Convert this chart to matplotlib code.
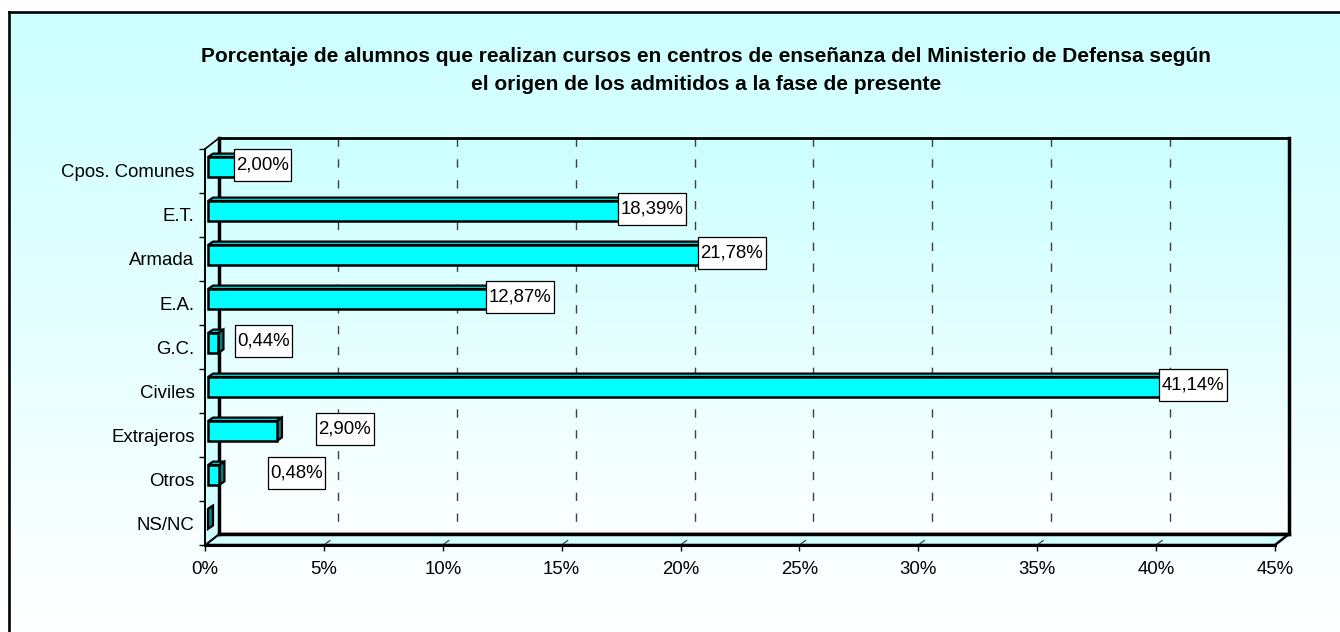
import numpy as np
import matplotlib
matplotlib.use("Agg")
import matplotlib.pyplot as plt
from matplotlib.patches import Polygon, Rectangle
from matplotlib.lines import Line2D
from matplotlib.transforms import IdentityTransform

plt.rcParams['font.family'] = ['Liberation Sans', 'DejaVu Sans']

# data
categories = ["Cpos. Comunes", "E.T.", "Armada", "E.A.", "G.C.",
              "Civiles", "Extrajeros", "Otros", "NS/NC"]
values = [2.00, 18.39, 21.78, 12.87, 0.44, 41.14, 2.90, 0.48, 0.00]
xticks = [0, 5, 10, 15, 20, 25, 30, 35, 40, 45]
title1 = "Porcentaje de alumnos que realizan cursos en centros de enseñanza del Ministerio de Defensa según"
title2 = "el origen de los admitidos a la fase de presente"

# label shift (pixels) from the bar end, as placed in the original
label_dx = [7, 7, 6, 6, 45, 7, 68, 77, 0]

W, H = 1340, 632
CYAN_BG = np.array([204, 255, 255]) / 255.0
FACE = "#00ffff"
TOP = "#00cccc"
SIDE = "#008080"
DEPTH = (14, 11)       # back wall offset, px (right, up)
BAR_F = (3, 4)         # bar front face offset
BAR_B = (8, 7.5)       # bar back face offset
FS = 13.4

fig = plt.figure(figsize=(W / 100, H / 100), dpi=100, facecolor="white")

# chart area background with vertical gradient, border only top and left
bg = fig.add_axes([0, 0, 1, 1], zorder=-10)
bg.axis("off")
t = np.linspace(0, 1, 256)[:, None, None]
grad = CYAN_BG * (1 - t) + np.ones(3) * t
bg.imshow(grad, extent=[9, W + 60, H, 12], aspect="auto", interpolation="bilinear")
bg.set_xlim(0, W)
bg.set_ylim(H, 0)
bg.plot([9, W + 10], [12, 12], color="black", lw=1.9, clip_on=False)
bg.plot([9, 9], [12, H + 10], color="black", lw=1.9, clip_on=False)
bg.set_xlim(0, W)
bg.set_ylim(H, 0)

fig.text(706 / W, 1 - 56 / H, title1, ha="center", va="center",
         fontsize=15, fontweight="bold")
fig.text(706 / W, 1 - 85 / H, title2, ha="center", va="center",
         fontsize=15, fontweight="bold")

# main axes = front plane of the 3d box
L, R, T, B = 205, 1275, 149, 545
ax = fig.add_axes([L / W, (H - B) / H, (R - L) / W, (B - T) / H])
n = len(categories)
ax.set_xlim(0, 45)
ax.set_ylim(n - 0.5, -0.5)
ax.patch.set_visible(False)
for s in ["top", "right"]:
    ax.spines[s].set_visible(False)
ax.spines["bottom"].set_linewidth(2.2)
ax.spines["left"].set_linewidth(1.3)
ax.set_xticks(xticks)
ax.set_xticklabels([f"{x}%" for x in xticks], fontsize=FS)
ax.set_yticks(range(n))
ax.set_yticklabels(categories, fontsize=FS)
ax.set_yticks(np.arange(-0.5, n, 1), minor=True)
ax.tick_params(axis="x", length=4.5, width=1, pad=7, colors="black")
ax.tick_params(axis="y", which="major", length=0, pad=7.5)
ax.tick_params(axis="y", which="minor", length=4.5, width=1)

ID = IdentityTransform()


def disp(x, y, off=(0, 0)):
    X, Y = ax.transData.transform((x, y))
    return (X + off[0], Y + off[1])


def poly(pts, fc, ec="black", lw=1.0, z=1):
    p = Polygon(pts, closed=True, fc=fc, ec=ec, lw=lw, transform=ID,
                clip_on=False, zorder=z)
    ax.add_patch(p)


def line(p0, p1, z=2, **kw):
    ax.add_line(Line2D([p0[0], p1[0]], [p0[1], p1[1]], transform=ID,
                       clip_on=False, zorder=z, **kw))


top, bot = -0.5, n - 0.5

# back wall gradient
inv = ax.transData.inverted()
bx0, by_top = inv.transform(disp(0, top, DEPTH))
bx1, by_bot = inv.transform(disp(45, bot, DEPTH))
wall = CYAN_BG * (1 - t) + np.array([0.99, 1, 1]) * t
ax.imshow(wall, extent=[bx0, bx1, by_bot, by_top], aspect="auto",
          interpolation="bilinear", zorder=0.1, clip_on=False)
ax.set_xlim(0, 45)
ax.set_ylim(n - 0.5, -0.5)

# gridlines on back wall
for x in xticks[1:-1]:
    line(disp(x, top, DEPTH), disp(x, bot, DEPTH), z=0.5, color="#404040",
         lw=1.0, dashes=(6, 9))
    line(disp(x, bot), disp(x, bot, (6, 4.5)), z=0.8, color="#404040", lw=0.9)

# floor and left wall
poly([disp(0, bot), disp(45, bot), disp(45, bot, DEPTH), disp(0, bot, DEPTH)],
     fc="#d2ffff", ec="black", lw=1.8, z=0.6)
poly([disp(0, top), disp(0, bot), disp(0, bot, DEPTH), disp(0, top, DEPTH)],
     fc="#d0ffff", ec="black", lw=1.2, z=0.6)

# back wall frame
line(disp(0, top, DEPTH), disp(45, top, DEPTH), color="black", lw=2.0, z=0.7)
line(disp(45, top, DEPTH), disp(45, bot, DEPTH), color="black", lw=2.5, z=0.7)
line(disp(0, top, DEPTH), disp(0, bot, DEPTH), color="black", lw=2.5, z=0.7)
line(disp(0, bot, DEPTH), disp(45, bot, DEPTH), color="black", lw=2.5, z=0.7)

# 3d bars
h = 0.225
for i, v in enumerate(values):
    y0, y1 = i - h, i + h
    poly([disp(0, y0, BAR_F), disp(v, y0, BAR_F), disp(v, y0, BAR_B),
          disp(0, y0, BAR_B)], fc=TOP, lw=1.6, z=3)
    poly([disp(v, y0, BAR_F), disp(v, y1, BAR_F), disp(v, y1, BAR_B),
          disp(v, y0, BAR_B)], fc=SIDE, lw=1.6, z=3)
    if v > 0:
        poly([disp(0, y0, BAR_F), disp(v, y0, BAR_F), disp(v, y1, BAR_F),
              disp(0, y1, BAR_F)], fc=FACE, lw=1.8, z=3.2)

# data labels in white boxes (Excel style: tight sides, tall box)
renderer = fig.canvas.get_renderer()
for i, v in enumerate(values):
    if v <= 0:
        continue
    txt = ax.annotate(f"{v:.2f}%".replace(".", ","), xy=(v, i),
                      xytext=(BAR_F[0] + label_dx[i], 6),
                      textcoords="offset pixels", ha="center", va="center",
                      fontsize=FS, zorder=5, annotation_clip=False)
    bb = txt.get_window_extent(renderer=renderer)
    cx, cy = (bb.x0 + bb.x1) / 2, (bb.y0 + bb.y1) / 2
    bw, bh = bb.width + 5, 32
    ax.add_patch(Rectangle((cx - bw / 2, cy - bh / 2), bw, bh, fc="white",
                           ec="black", lw=0.9, transform=ID, clip_on=False,
                           zorder=4.9))

fig.savefig("out.png", dpi=100, facecolor="white")
